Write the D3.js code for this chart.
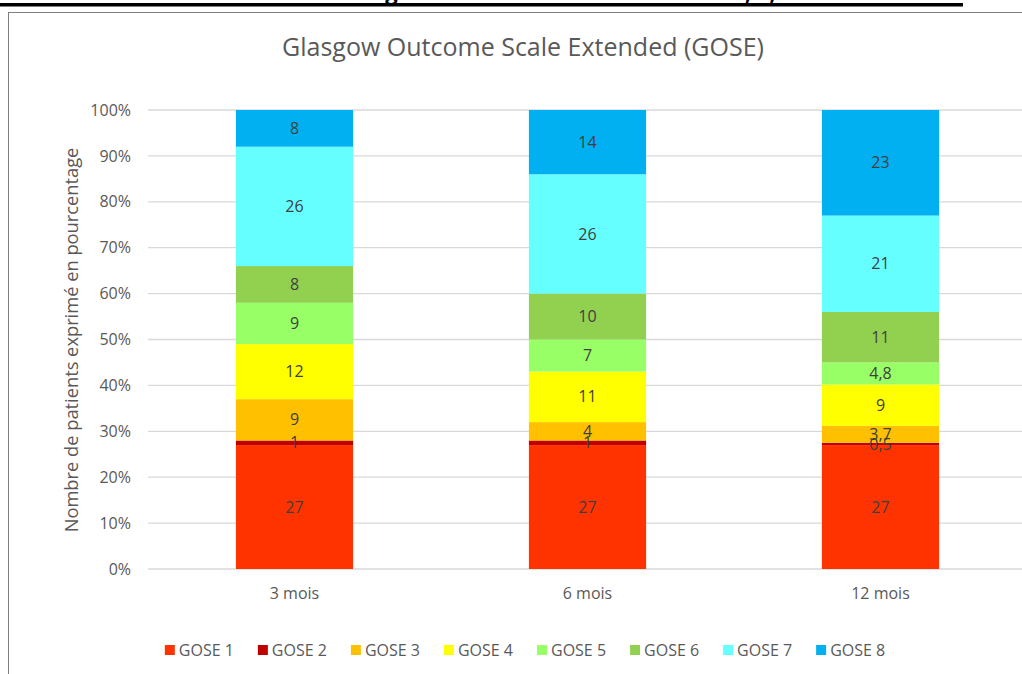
<!DOCTYPE html>
<html><head><meta charset="utf-8">
<script src="https://cdn.jsdelivr.net/npm/d3@7"></script>
<style>
html,body{margin:0;padding:0;background:#fff;overflow:hidden;}
svg{display:block;}
</style></head>
<body>
<svg id="c" width="1022" height="674"></svg>
<script>
const categories = ["3 mois", "6 mois", "12 mois"];
const seriesNames = ["GOSE 1","GOSE 2","GOSE 3","GOSE 4","GOSE 5","GOSE 6","GOSE 7","GOSE 8"];
const gose1 = [27, 27, 27];
const gose2 = [1, 1, 0.5];
const gose3 = [9, 4, 3.7];
const gose4 = [12, 11, 9];
const gose5 = [9, 7, 4.8];
const gose6 = [8, 10, 11];
const gose7 = [26, 26, 21];
const gose8 = [8, 14, 23];
const colors = ["#FF3300","#C00000","#FFC000","#FFFF00","#99FF66","#92D050","#66FFFF","#00B0F0"];
const yTicks = [0,10,20,30,40,50,60,70,80,90,100];

const seriesValues = [gose1,gose2,gose3,gose4,gose5,gose6,gose7,gose8];
const rows = categories.map((c,i)=>{
  const o = {cat:c};
  seriesNames.forEach((s,j)=>o[s]=seriesValues[j][i]);
  return o;
});

const svg = d3.select("#c");
const font = "'Open Sans', 'Noto Sans', sans-serif";

// cut-off heading from page above
svg.append("text").attr("x", 530).attr("y", 0).attr("text-anchor","middle")
  .attr("font-family", font).attr("font-weight","bold").attr("font-size", 22)
  .attr("fill","#000").text("Évolution du Glasgow Outcome Scale Extended à 3, 6, 12 mois");
svg.append("rect").attr("x",0).attr("y",3).attr("width",963).attr("height",3.5).attr("fill","#000");

// chart border
svg.append("rect").attr("x",8.5).attr("y",12.5).attr("width",1040).attr("height",700)
  .attr("fill","none").attr("stroke","#7f7f7f").attr("stroke-width",1);

const pLeft = 148, pRight = 1027, pTop = 110, pBottom = 569;
const x = d3.scaleBand().domain(categories).range([pLeft, pRight]).paddingInner(0.6).paddingOuter(0.3);
const y = d3.scaleLinear().domain([0,100]).range([pBottom, pTop]);

// gridlines
svg.append("g").selectAll("line").data(yTicks).join("line")
  .attr("x1", pLeft).attr("x2", pRight)
  .attr("y1", d=>y(d)).attr("y2", d=>y(d))
  .attr("stroke","#d9d9d9").attr("stroke-width",1.3);

// y axis
const yAxis = d3.axisLeft(y).tickValues(yTicks).tickFormat(d=>d+"%").tickSize(0).tickPadding(17);
const gy = svg.append("g").attr("transform",`translate(${pLeft},0)`).call(yAxis);
gy.select(".domain").remove();
gy.selectAll("text").attr("font-family",font).attr("font-size",16).attr("fill","#595959");

// x axis
const xAxis = d3.axisBottom(x).tickSize(0).tickPadding(19);
const gx = svg.append("g").attr("transform",`translate(0,${pBottom})`).call(xAxis);
gx.select(".domain").remove();
gx.selectAll("text").attr("font-family",font).attr("font-size",16).attr("fill","#595959");

// stacks
const stack = d3.stack().keys(seriesNames);
const stacked = stack(rows);
const fmt = v => String(v).replace(".", ",");

const layers = svg.append("g").selectAll("g").data(stacked).join("g")
  .attr("fill",(d,i)=>colors[i]);
layers.selectAll("rect").data(d=>d).join("rect")
  .attr("x", d=>x(d.data.cat))
  .attr("width", x.bandwidth())
  .attr("y", d=>y(d[1]))
  .attr("height", d=>y(d[0])-y(d[1]));

const labels = svg.append("g");
stacked.forEach((layer)=>{
  layer.forEach(d=>{
    labels.append("text")
      .attr("x", x(d.data.cat)+x.bandwidth()/2)
      .attr("y", y((d[0]+d[1])/2))
      .attr("dy","0.35em")
      .attr("text-anchor","middle")
      .attr("font-family",font).attr("font-size",16).attr("fill","#404040")
      .text(fmt(+(d[1]-d[0]).toFixed(1)));
  });
});

// y label
svg.append("text").attr("transform","translate(72,340) rotate(-90)")
  .attr("text-anchor","middle").attr("dy","0.35em").attr("font-family",font).attr("font-size",18.3).attr("fill","#595959")
  .text("Nombre de patients exprimé en pourcentage");

// title
svg.append("text").attr("x",523).attr("y",56).attr("text-anchor","middle")
  .attr("font-family",font).attr("font-size",25).attr("fill","#595959")
  .text("Glasgow Outcome Scale Extended (GOSE)");

// legend
const lg = svg.append("g");
let lx = 0;
const gap = 24;
seriesNames.forEach((s,i)=>{
  const g = lg.append("g").attr("transform",`translate(${lx},0)`);
  g.append("rect").attr("x",0).attr("y",-5).attr("width",10).attr("height",10).attr("fill",colors[i]);
  const t = g.append("text").attr("x",14).attr("y",0).attr("dy","0.35em")
    .attr("font-family",font).attr("font-size",16).attr("fill","#595959").text(s);
  const w = t.node().getComputedTextLength();
  lx += 14 + w + gap;
});
const totalW = lx - gap;
lg.attr("transform",`translate(${525 - totalW/2},650)`);
</script>
</body></html>
